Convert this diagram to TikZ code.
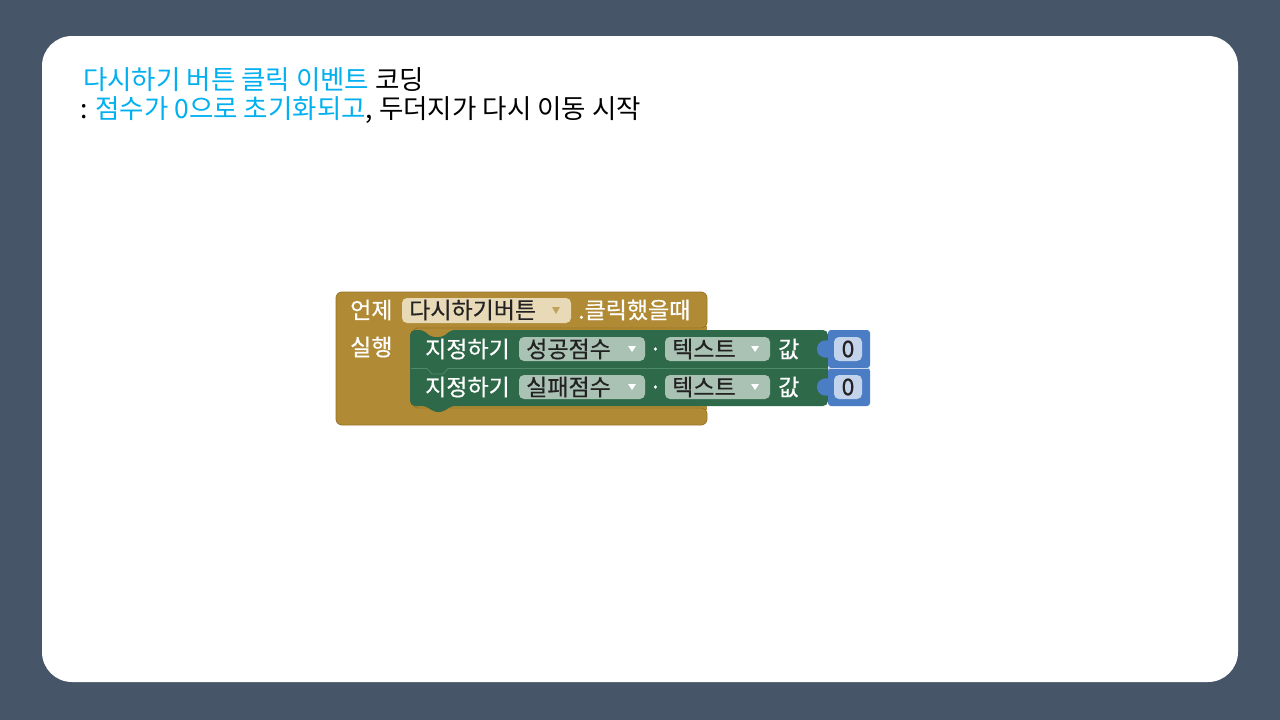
\documentclass[tikz,border=0pt]{standalone}
\usepackage{fontspec}
\setmainfont{Noto Sans CJK KR}
\newfontfamily\kr{Noto Sans CJK KR}
\newfontfamily\krblk[FakeBold=0.5]{Noto Sans CJK KR}
\definecolor{bgslate}{HTML}{465567}
\definecolor{titlecyan}{HTML}{00B0F0}
\definecolor{evgold}{HTML}{B08A34}
\definecolor{evgoldline}{HTML}{987426}
\definecolor{setgreen}{HTML}{2E6A4A}
\definecolor{setgreenline}{HTML}{4E8A6A}
\definecolor{numblue}{HTML}{4B7DC5}
\definecolor{numfield}{HTML}{C4D3EC}
\definecolor{greenfield}{HTML}{A9C2B4}
\definecolor{tanfield}{HTML}{E8D9B7}
\definecolor{fieldtext}{HTML}{222222}
\begin{document}
\begin{tikzpicture}[x=1pt,y=-1pt,
  titletext/.style={anchor=base west,inner sep=0pt,font=\kr\fontsize{26.5}{30}\selectfont},
  blocktext/.style={anchor=west,inner sep=0pt,text=white,font=\krblk\fontsize{23}{26}\selectfont},
  fieldlabel/.style={anchor=west,inner sep=0pt,text=fieldtext,font=\krblk\fontsize{23}{26}\selectfont},
  gfield/.style={fill=greenfield,rounded corners=5pt},
  dropdown/.style={fill=white,draw=none}
]
\useasboundingbox (0,0) rectangle (1280,720);
\fill[bgslate] (0,0) rectangle (1280,720);
\fill[white,rounded corners=30pt] (42,36) rectangle (1238,682);

% title
\node[titletext] (t1) at (83,89) {\textcolor{titlecyan}{다시하기 버튼 클릭 이벤트} 코딩};
\node[titletext] (t2) at (80,118) {: \textcolor{titlecyan}{점수가 0으로 초기화되고}, 두더지가 다시 이동 시작};

% event block
\fill[evgold] (412,326) rectangle (707,410);
\fill[evgold,draw=evgoldline,line width=0.8pt,rounded corners=6pt]
  (336,292) -- (707,292) -- (707,328) -- (412,328) -- (412,408) -- (707,408) -- (707,425) -- (336,425) -- cycle;
\node[blocktext] (when) at (350,310) {언제};
\fill[tanfield,rounded corners=5pt] (402,298) rectangle (571,323);
\node[fieldlabel] (btn) at (409,310) {다시하기버튼};
\fill[fill=evgold!70!tanfield] (552,307) -- (560,307) -- (556,314) -- cycle;
\node[blocktext] (click) at (578,310) {.클릭했을때};
\node[blocktext] (do) at (350,347) {실행};

% green set blocks
\fill[setgreen,rounded corners=5pt]
  (410,330) -- (424,330) -- (430,337) -- (444,337) -- (450,330) -- (828,330) -- (828,406)
  -- (450,406) -- (444,412) -- (433,412) -- (427,406) -- (410,406) -- cycle;
\draw[setgreenline,line width=0.8pt] (411,368.5) -- (427,368.5) -- (432,374) -- (443,374) -- (448,368.5) -- (827,368.5);

\foreach \yy/\nm/\lab in {349/a/성공점수, 387/b/실패점수}{
  \node[blocktext] (set\nm) at (425,\yy) {지정하기};
  \fill[gfield] (519,\yy-12) rectangle (645,\yy+12);
  \node[fieldlabel] (var\nm) at (526,\yy) {\lab};
  \fill[dropdown] (628,\yy-3) -- (636,\yy-3) -- (632,\yy+3) -- cycle;
  \node[blocktext] (dot\nm) at (652,\yy) {.};
  \fill[gfield] (665,\yy-12) rectangle (770,\yy+12);
  \node[fieldlabel] (prop\nm) at (672,\yy) {텍스트};
  \fill[dropdown] (751,\yy-3) -- (759,\yy-3) -- (755,\yy+3) -- cycle;
  \node[blocktext] (val\nm) at (778,\yy) {값};
  % number block
  \fill[numblue,rounded corners=3pt] (828,\yy-19) -- (870,\yy-19) -- (870,\yy+19) -- (828,\yy+19) -- cycle;
  \fill[numblue,rounded corners=2pt] (829,\yy-9) -- (821,\yy-8) -- (817,\yy-3) -- (817,\yy+3) -- (821,\yy+8) -- (829,\yy+9) -- cycle;
  \fill[numfield,rounded corners=5pt] (834,\yy-12) rectangle (862,\yy+12);
  \node[fieldlabel,anchor=center] (num\nm) at (848,\yy) {0};
}
\draw[white!70!numblue,line width=0.8pt] (828,368.5) -- (870,368.5);
\end{tikzpicture}
\end{document}
